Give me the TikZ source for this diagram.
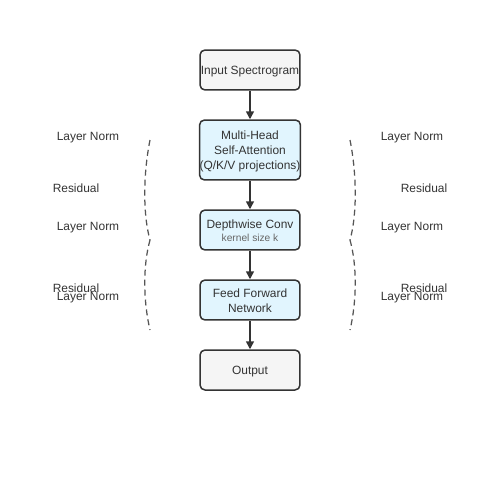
\documentclass[tikz,border=0pt]{standalone}
\usepackage{fontspec}
\setmainfont{Liberation Sans}
\usetikzlibrary{arrows.meta}
\definecolor{edgegray}{HTML}{333333}
\definecolor{iofill}{HTML}{F5F5F5}
\definecolor{opfill}{HTML}{E1F5FE}
\definecolor{txtgray}{HTML}{333333}
\definecolor{subgray}{HTML}{666666}
\definecolor{skipgray}{HTML}{555555}
\newcommand{\blocktext}[1]{\raisebox{-1.1pt}[\height][\depth]{\begin{tabular}{@{}c@{}}#1\end{tabular}}}
\tikzset{
  blockbox/.style={draw=edgegray, line width=0.03cm, rounded corners=0.1cm,
    minimum width=2cm, minimum height=0.8cm, inner sep=0pt, align=center,
    text=txtgray, font=\fontsize{6.8}{8.5}\selectfont},
  iobox/.style={blockbox, fill=iofill},
  opbox/.style={blockbox, fill=opfill},
  sidelabel/.style={text=txtgray, inner sep=0pt, yshift=-0.04cm, font=\fontsize{6.8}{8.5}\selectfont},
  flow/.style={draw=edgegray, line width=0.03cm, -{Triangle[length=0.16cm,width=0.16cm]}},
  skip/.style={draw=skipgray, line width=0.025cm, dash pattern=on 0.12cm off 0.08cm}
}
\begin{document}
\begin{tikzpicture}[x=0.02cm, y=-0.02cm]
  \useasboundingbox (0,0) rectangle (500,500);
  % main blocks
  \node[iobox] (input) at (250,70) {\blocktext{Input Spectrogram}};
  \node[opbox, minimum height=1.2cm] (mhsa) at (250,150) {\blocktext{Multi-Head\\Self-Attention\\(Q/K/V projections)}};
  \node[opbox] (dwconv) at (250,230) {\blocktext{Depthwise Conv\\[-1.5pt]{\fontsize{5.8}{6.8}\selectfont\color{subgray}kernel size k}}};
  \node[opbox] (ffn) at (250,300) {\blocktext{Feed Forward\\Network}};
  \node[iobox] (output) at (250,370) {\blocktext{Output}};
  \draw[flow] (input) -- (mhsa);
  \draw[flow] (mhsa) -- (dwconv);
  \draw[flow] (dwconv) -- (ffn);
  \draw[flow] (ffn) -- (output);
  % side labels
  \node[sidelabel] (lnA) at (88,136) {Layer Norm};
  \node[sidelabel] (resA) at (76,186) {Residual};
  \node[sidelabel] (lnB) at (88,226) {Layer Norm};
  \node[sidelabel] (resB) at (76,286) {Residual};
  \node[sidelabel] (lnC) at (88,296) {Layer Norm};
  \node[sidelabel] (lnD) at (412,136) {Layer Norm};
  \node[sidelabel] (resC) at (424,186) {Residual};
  \node[sidelabel] (lnE) at (412,226) {Layer Norm};
  \node[sidelabel] (resD) at (424,286) {Residual};
  \node[sidelabel] (lnF) at (412,296) {Layer Norm};
  % skip curves
  \coordinate (lt) at (150,140);
  \coordinate (lm) at (150,240);
  \coordinate (lb) at (150,330);
  \coordinate (rt) at (350,140);
  \coordinate (rm) at (350,240);
  \coordinate (rb) at (350,330);
  \draw[skip] (lt) .. controls (143,175) and (143,215) .. (lm);
  \draw[skip] (lm) .. controls (143,265) and (143,300) .. (lb);
  \draw[skip] (rt) .. controls (357,175) and (357,215) .. (rm);
  \draw[skip] (rm) .. controls (357,265) and (357,300) .. (rb);
\end{tikzpicture}
\end{document}
